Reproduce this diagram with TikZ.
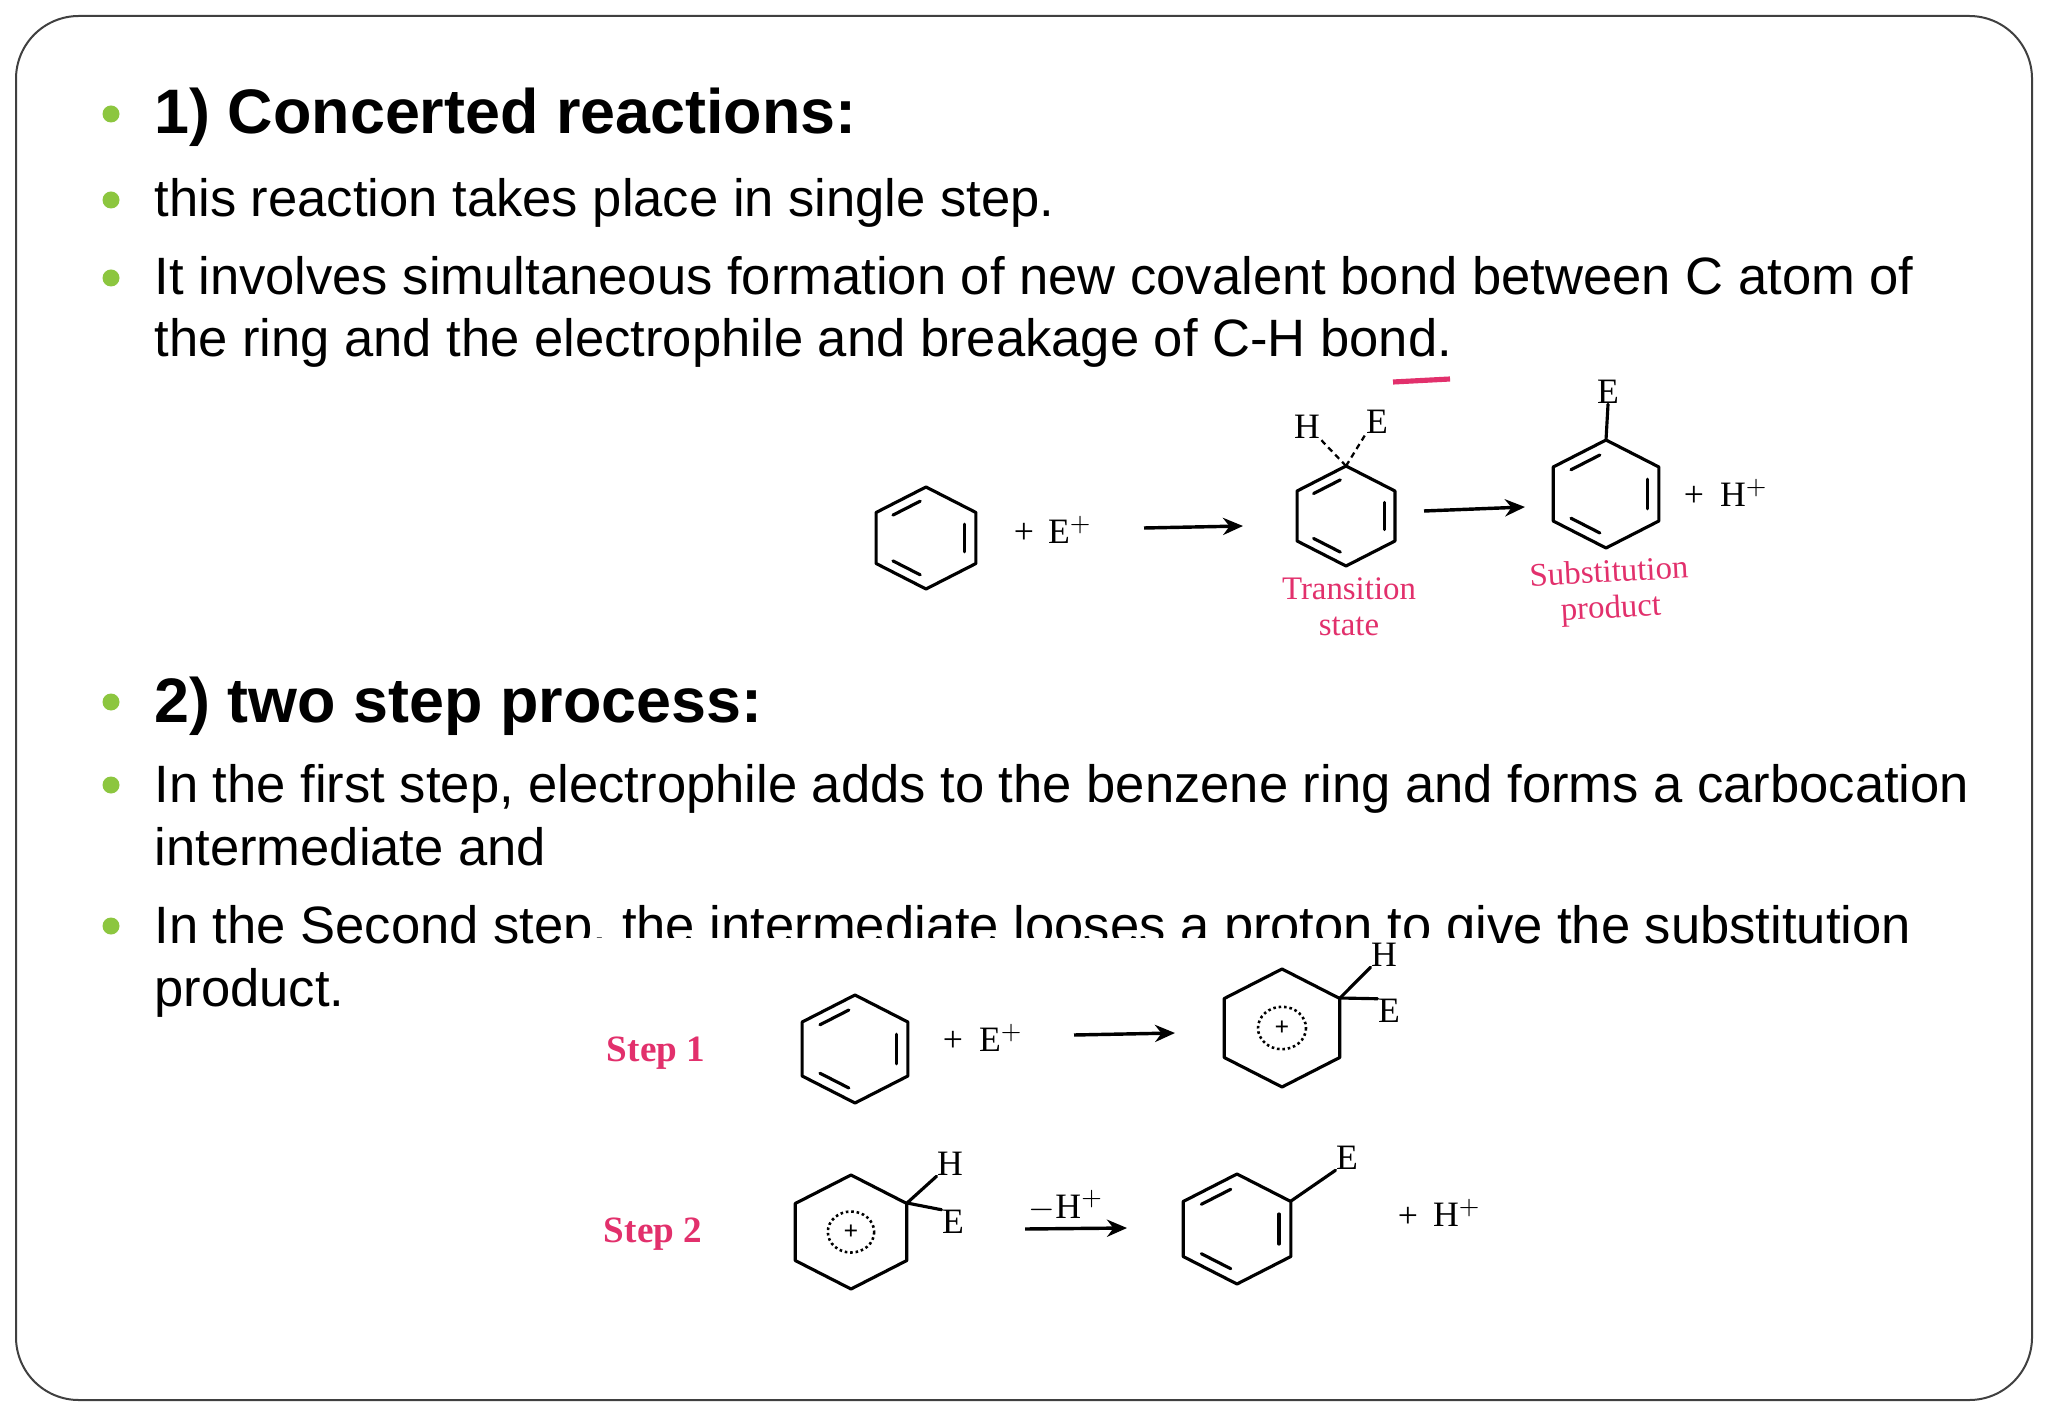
\documentclass[tikz,border=0pt]{standalone}
\usepackage{fontspec}
\setmainfont{Liberation Sans}
\newfontfamily\chemf{Liberation Serif}
\usetikzlibrary{arrows.meta,calc}
\definecolor{bulg}{HTML}{8CC63F}
\definecolor{chred}{HTML}{E2306C}
\newcommand\hexring[4]{% x y r doublebonds(1/0)
\begin{scope}[shift={(#1,#2)},scale=#3,xscale=1.13]
\draw[ring] (0,-1)--(0.866,-0.5)--(0.866,0.5)--(0,1)--(-0.866,0.5)--(-0.866,-0.5)--cycle;
\ifnum#4=1
\draw[ring] (-0.574,-0.449)--(-0.101,-0.722);
\draw[ring] (0.675,-0.273)--(0.675,0.273);
\draw[ring] (-0.101,0.722)--(-0.574,0.449);
\fi
\ifnum#4=2
\draw[densely dotted,line width=0.9pt] (0,0) circle (0.36);
\node[font=\chemf\fontsize{9}{9}\selectfont\bfseries] at (0,0) {+};
\fi
\end{scope}}
\tikzset{
 ring/.style={line width=1.1pt,line cap=round,line join=round},
 bul/.style={fill=bulg,draw=none},
 body/.style={anchor=base west,inner sep=0pt,font=\fontsize{18.4}{20}\selectfont},
 head/.style={anchor=base west,inner sep=0pt,font=\fontsize{22}{24}\selectfont\bfseries},
 chem/.style={inner sep=0pt,font=\chemf\fontsize{12.5}{13}\selectfont},
 red/.style={inner sep=0pt,align=center,text=chred,font=\chemf\fontsize{11.5}{12.5}\selectfont},
 rxn/.style={line width=1.2pt,-{Stealth[length=7pt,width=6pt]}},
}
\begin{document}
\begin{tikzpicture}[x=0.35pt,y=-0.35pt]
\useasboundingbox (0,0) rectangle (2048,1418);
\fill[white] (0,0) rectangle (2048,1418);
\draw[line width=0.7pt,draw=black!75,rounded corners=22pt] (16,16) rectangle (2032,1400);
% bullets
\foreach \y in {114,200,278,702,785,926}{\fill[bul] (111,\y) circle (8.5);}
\node[head] (h1) at (154,134) {1) Concerted reactions:};
\node[body] (t1) at (154,217) {this reaction takes place in single step.};
\node[body] (t2) at (154,295) {It involves simultaneous formation of new covalent bond between C atom of};
\node[body] (t3) at (154,357) {the ring and the electrophile and breakage of C-H bond.};
\node[head] (h2) at (154,722) {2) two step process:};
\node[body] (t4) at (154,802) {In the first step, electrophile adds to the benzene ring and forms a carbocation};
\node[body] (t5) at (154,865) {intermediate and};
\node[body] (t6) at (154,943) {In the Second step, the intermediate looses a proton to give the substitution};
\node[body] (t7) at (154,1006) {product.};
\fill[white] (560,938) rectangle (1495,1330);
% top reaction
\draw[chred,line width=1.8pt] (1393,382)--(1450,379);
\hexring{926}{538}{51}{1}
\node[chem] (p1) at (1024,533) {+};
\node[chem] (e1) at (1070,530) {E$^{+}$};
\coordinate (a1s) at (1144,528); \coordinate (a1e) at (1243,526);
\draw[rxn] (a1s)--(a1e);
\hexring{1346}{516}{50}{1}
\coordinate (tsv) at (1346,466);
\node[chem] (tsH) at (1307,427) {H};
\node[chem] (tsE) at (1377,422) {E};
\draw[dashed,dash pattern=on 2pt off 1.5pt,line width=0.8pt] (tsv)--(tsH.south east);
\draw[dashed,dash pattern=on 2pt off 1.5pt,line width=0.8pt] (tsv)--(tsE.south west);
\node[red] (ts) at (1349,607) {Transition\\state};
\coordinate (a2s) at (1424,511); \coordinate (a2e) at (1525,507);
\draw[rxn] (a2s)--(a2e);
\hexring{1606}{494}{54}{1}
\node[chem] (spE) at (1608,392) {E};
\draw[ring] (1606,440)--(spE.south);
\node[chem] (p2) at (1694,496) {+};
\node[chem] (h2p) at (1744,493) {H$^{+}$};
\node[red,rotate=3] (sp) at (1610,592) {Substitution\\product};
% step 1
\node[red,font=\chemf\fontsize{13}{14}\selectfont\bfseries] (s1) at (656,1053) {Step 1};
\hexring{855}{1049}{54}{1}
\node[chem] (p3) at (953,1041) {+};
\node[chem] (e3) at (1001,1038) {E$^{+}$};
\coordinate (a3s) at (1074,1035); \coordinate (a3e) at (1175,1033);
\draw[rxn] (a3s)--(a3e);
\hexring{1282}{1028}{59}{2}
\coordinate (cv1) at (1340,998);
\node[chem] (ch1) at (1384,955) {H};
\node[chem] (ce1) at (1389,1011) {E};
\draw[ring] (cv1)--(ch1.south west);
\draw[ring] (cv1)--(ce1.north west);
% step 2
\node[red,font=\chemf\fontsize{13}{14}\selectfont\bfseries] (s2) at (653,1234) {Step 2};
\hexring{851}{1232}{57}{2}
\coordinate (cv2) at (907,1203);
\node[chem] (ch2) at (950,1164) {H};
\node[chem] (ce2) at (953,1222) {E};
\draw[ring] (cv2)--(ch2.south west);
\draw[ring] (cv2)--(ce2.north west);
\node[chem] (mh) at (1066,1206) {$-$H$^{+}$};
\coordinate (a4s) at (1025,1229); \coordinate (a4e) at (1127,1228);
\draw[rxn] (a4s)--(a4e);
\hexring{1237}{1229}{55}{1}
\node[chem] (pe) at (1347,1158) {E};
\draw[ring] (1291,1201)--(pe.south west);
\node[chem] (p4) at (1408,1217) {+};
\node[chem] (h4) at (1457,1213) {H$^{+}$};
\end{tikzpicture}
\end{document}
